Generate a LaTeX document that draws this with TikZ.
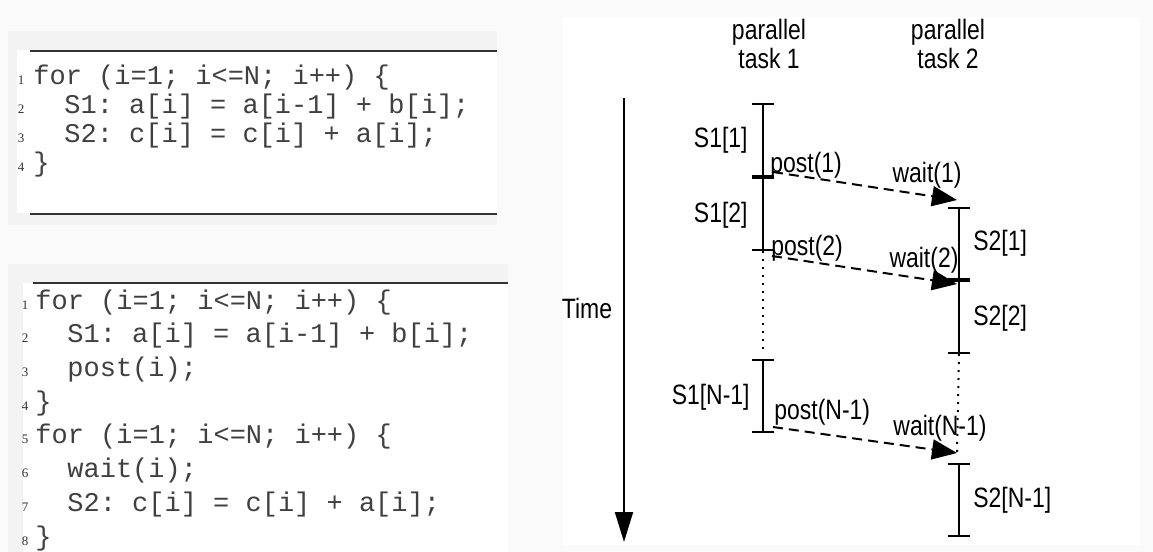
\documentclass[tikz,border=0pt]{standalone}
\usepackage{fontspec}
\setmainfont{Liberation Sans}
\setmonofont{Liberation Mono}
\newfontfamily\numfont{Liberation Serif}
\newfontfamily\labelfont{Liberation Sans}[FakeStretch=0.82]
\usetikzlibrary{arrows.meta}

\definecolor{pagebg}{HTML}{FAFAFA}
\definecolor{panelbg}{HTML}{F3F3F3}

\tikzset{
  codeline/.style={anchor=base west, inner sep=0pt, text=black!75,
    font=\ttfamily\fontsize{13.5}{16}\selectfont},
  lineno/.style={anchor=base, inner sep=0pt, text=black!80,
    font=\numfont\fontsize{6.5}{8}\selectfont},
  lbl/.style={inner sep=0pt, font=\labelfont\fontsize{14}{14.5}\selectfont},
  rule/.style={line width=1pt, black!80},
  interval/.style={line width=1pt, {Bar[width=11pt]}-{Bar[width=11pt]}},
  gap/.style={line width=1pt, dash pattern=on 1pt off 3pt},
  sync/.style={line width=1pt, dash pattern=on 5pt off 3pt,
    -{Triangle[length=12.5pt,width=10pt]}},
  timeaxis/.style={line width=1pt, -{Triangle[length=15pt,width=9pt]}}
}

\begin{document}
\begin{tikzpicture}[x=0.5pt,y=-0.5pt]
  % page and panels
  \fill[pagebg] (0,0) rectangle (1153,552);
  \fill[panelbg] (8,31) rectangle (497,225);
  \fill[white] (17,50) rectangle (497,213);
  \fill[panelbg] (8,264) rectangle (508,552);
  \fill[white] (23,283) rectangle (508,552);
  \fill[white] (563,17) rectangle (1140,545);
  \useasboundingbox (0,0) rectangle (1153,552);

  % first listing
  \draw[rule] (30,51) -- (497,51);
  \draw[rule] (30,214) -- (497,214);
  \foreach \n/\y/\x/\txt in {1/84.5/33/{for (i=1; i<=N; i++) \{},
                            2/113.5/64/{S1: a[i] = a[i-1] + b[i];},
                            3/142.5/64/{S2: c[i] = c[i] + a[i];},
                            4/171.5/33/{\}}} {
      \node[lineno] (na\n) at (21,\y) {\n};
      \node[codeline] (a\n) at (\x,\y) {\txt};
  }

  % second listing
  \draw[rule] (33,283) -- (508,283);
  \foreach \n/\y/\x/\txt in {1/309/35/{for (i=1; i<=N; i++) \{},
                            2/342.7/67/{S1: a[i] = a[i-1] + b[i];},
                            3/376.4/67/{post(i);},
                            4/410/35/{\}},
                            5/443.8/35/{for (i=1; i<=N; i++) \{},
                            6/477.5/67/{wait(i);},
                            7/511.2/67/{S2: c[i] = c[i] + a[i];},
                            8/545/35/{\}}} {
      \node[lineno] (nb\n) at (25,\y) {\n};
      \node[codeline] (b\n) at (\x,\y) {\txt};
  }

  % task headers
  \node[lbl, align=center] (head1) at (769,44) {parallel\\task 1};
  \node[lbl, align=center] (head2) at (948,44) {parallel\\task 2};

  % time axis
  \coordinate (ttop) at (624,98);
  \coordinate (tbot) at (624,542);
  \draw[timeaxis] (ttop) -- (tbot);
  \node[lbl] (time) at (587,308) {Time};

  % task 1
  \foreach \n/\y in {a/103,b/177,c/251,d/359,e/433}
      \coordinate (t1\n) at (763,\y);
  \coordinate (g1) at (763,352);
  \draw[interval] (t1a) -- (t1b);
  \draw[interval] (t1b) -- (t1c);
  \draw[gap] (t1c) -- (g1);
  \draw[interval] (t1d) -- (t1e);
  \node[lbl, anchor=east] (s11) at (748,140) {S1[1]};
  \node[lbl, anchor=east] (s12) at (748,215) {S1[2]};
  \node[lbl, anchor=east] (s1n) at (750,397) {S1[N-1]};

  % task 2
  \foreach \n/\y in {a/207,b/280,c/354,d/463,e/537}
      \coordinate (t2\n) at (959,\y);
  \draw[interval] (t2a) -- (t2b);
  \draw[interval] (t2b) -- (t2c);
  \draw[interval] (t2d) -- (t2e);
  \node[lbl, anchor=west] (s21) at (973,243) {S2[1]};
  \node[lbl, anchor=west] (s22) at (973,318) {S2[2]};
  \node[lbl, anchor=west] (s2n) at (973,500) {S2[N-1]};

  % post / wait
  \coordinate (p1) at (773,172);
  \coordinate (w1) at (957,200);
  \coordinate (p2) at (772,256);
  \coordinate (w2) at (957,284);
  \coordinate (p3) at (773,427);
  \coordinate (w3) at (957,453);
  \draw[gap] (t2c) -- (w3);
  \draw[sync] (p1) -- (w1);
  \draw[sync] (p2) -- (w2);
  \draw[sync] (p3) -- (w3);
  \node[lbl, anchor=west] (post1) at (770,165) {post(1)};
  \node[lbl, anchor=west] (post2) at (771,248) {post(2)};
  \node[lbl, anchor=west] (postn) at (774,412) {post(N-1)};
  \node[lbl] (wait1) at (927,175) {wait(1)};
  \node[lbl] (wait2) at (924,260) {wait(2)};
  \node[lbl] (waitn) at (940,428) {wait(N-1)};
\end{tikzpicture}
\end{document}
